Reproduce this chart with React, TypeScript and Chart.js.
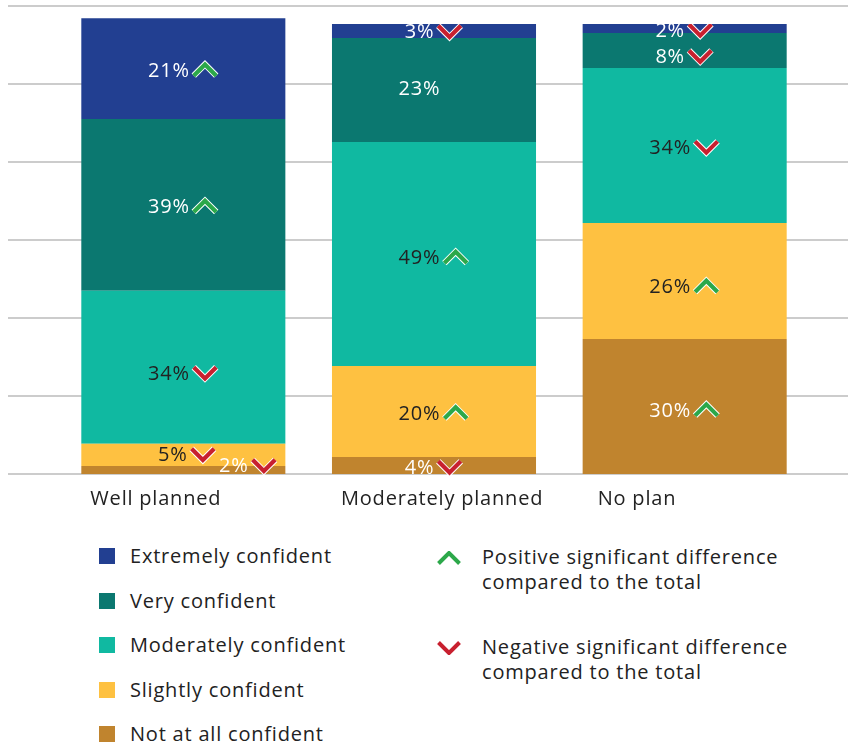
import React, { useEffect, useRef } from "react";
import { Chart, registerables } from "chart.js";

Chart.register(...registerables);

// ---------- DATA ----------
const categories = ["Well planned", "Moderately planned", "No plan"];
const seriesNames = [
  "Extremely confident",
  "Very confident",
  "Moderately confident",
  "Slightly confident",
  "Not at all confident",
];
// segment heights (% of respondents) as drawn
const extremelyValues = [22.4, 3.1, 2.0];
const veryValues = [38.2, 23.1, 7.8];
const moderatelyValues = [34.0, 49.8, 34.4];
const slightlyValues = [4.9, 20.2, 25.8];
const notAtAllValues = [1.8, 3.8, 30.0];
// printed labels
const extremelyLabels = ["21%", "3%", "2%"];
const veryLabels = ["39%", "23%", "8%"];
const moderatelyLabels = ["34%", "49%", "34%"];
const slightlyLabels = ["5%", "20%", "26%"];
const notAtAllLabels = ["2%", "4%", "30%"];
// significance markers
const extremelySig = ["up", "down", "down"];
const verySig = ["up", "none", "down"];
const moderatelySig = ["down", "up", "down"];
const slightlySig = ["down", "up", "up"];
const notAtAllSig = ["down", "down", "up"];
const legendSigTexts = [
  "Positive significant difference compared to the total",
  "Negative significant difference compared to the total",
];
const Y_MAX = 104;
const GRID_COUNT = 6;

// ---------- STYLE ----------
const FONT = "'Open Sans', Lato, sans-serif";
const SPACING = "0.8px";
const COLORS = {
  extremely: "#223F91",
  very: "#0B7870",
  moderately: "#10B9A1",
  slightly: "#FEC141",
  notAtAll: "#C0842E",
};
const GREEN = "#2CA84A";
const RED = "#C8202F";
const DARK = "#222222";
const LABEL_OFFSETS: Record<string, [number, number]> = {
  "Not at all confident|Well planned": [65, -6],
  "Very confident|No plan": [0, 4],
  "Moderately confident|Well planned": [0, 4],
  "Slightly confident|No plan": [0, 4],
  "Not at all confident|No plan": [0, 2],
  "Moderately confident|Moderately planned": [0, 2],
  "Very confident|Moderately planned": [0, -3],
  "Slightly confident|Well planned": [4, -2],
  "Extremely confident|Moderately planned": [0, -1],
};
const CATEGORY_LABEL_DX = [-93, -93, -87];

function chevronPath(ctx: CanvasRenderingContext2D, x: number, y: number, dir: string) {
  const w = 22.5;
  const h = 11.25;
  ctx.beginPath();
  if (dir === "up") {
    ctx.moveTo(x, y + h / 2);
    ctx.lineTo(x + w / 2, y - h / 2);
    ctx.lineTo(x + w, y + h / 2);
  } else {
    ctx.moveTo(x, y - h / 2);
    ctx.lineTo(x + w / 2, y + h / 2);
    ctx.lineTo(x + w, y - h / 2);
  }
}

function drawChevron(ctx: CanvasRenderingContext2D, x: number, y: number, dir: string) {
  ctx.save();
  ctx.lineJoin = "miter";
  ctx.lineCap = "butt";
  chevronPath(ctx, x, y, dir);
  ctx.strokeStyle = "#ffffff";
  ctx.lineWidth = 6.2;
  ctx.stroke();
  chevronPath(ctx, x, y, dir);
  ctx.strokeStyle = dir === "up" ? GREEN : RED;
  ctx.lineWidth = 4.2;
  ctx.stroke();
  ctx.restore();
}

const fullGridPlugin = {
  id: "fullGrid",
  beforeDatasetsDraw(chart: any) {
    const { ctx } = chart;
    const ys = chart.scales.y;
    ctx.save();
    ctx.strokeStyle = "#BBBBBB";
    ctx.lineWidth = 1.4;
    for (let i = 0; i <= GRID_COUNT; i++) {
      const py = ys.getPixelForValue((Y_MAX * i) / GRID_COUNT);
      ctx.beginPath();
      ctx.moveTo(0, py);
      ctx.lineTo(chart.width, py);
      ctx.stroke();
    }
    ctx.restore();
  },
};

const segmentLabelPlugin = {
  id: "segmentLabels",
  afterDatasetsDraw(chart: any) {
    const { ctx } = chart;
    const n = chart.data.labels.length;
    const tops: number[] = [];
    for (let i = 0; i < n; i++) {
      let t = Infinity;
      chart.data.datasets.forEach((_: any, di: number) => {
        const el = chart.getDatasetMeta(di).data[i];
        t = Math.min(t, el.y, el.base);
      });
      tops.push(t);
    }
    ctx.save();
    ctx.font = `20px ${FONT}`;
    (ctx as any).letterSpacing = SPACING;
    ctx.textBaseline = "middle";
    ctx.textAlign = "left";
    chart.data.datasets.forEach((ds: any, di: number) => {
      const meta = chart.getDatasetMeta(di);
      meta.data.forEach((el: any, i: number) => {
        const text = ds.printed[i];
        const sig = ds.sig[i];
        const off = LABEL_OFFSETS[ds.label + "|" + chart.data.labels[i]] || [0, 0];
        const cx = el.x + off[0];
        const cy = (el.y + el.base) / 2 + off[1] + 1.5;
        const tw = ctx.measureText(text).width;
        const total = tw + 4 + 25;
        const sx = cx - total / 2;
        ctx.save();
        ctx.beginPath();
        ctx.rect(chart.chartArea.left - 60, tops[i], chart.chartArea.width + 120, el.base - tops[i] + 40);
        ctx.clip();
        ctx.fillStyle = ds.textColor;
        ctx.fillText(text, sx, cy + 1);
        if (sig !== "none") drawChevron(ctx, sx + tw + 4, cy, sig);
        ctx.restore();
      });
    });
    ctx.restore();
  },
};

const categoryLabelPlugin = {
  id: "categoryLabels",
  afterDraw(chart: any) {
    const { ctx } = chart;
    const xs = chart.scales.x;
    ctx.save();
    ctx.font = `20px ${FONT}`;
    (ctx as any).letterSpacing = SPACING;
    ctx.fillStyle = DARK;
    ctx.textBaseline = "middle";
    ctx.textAlign = "left";
    chart.data.labels.forEach((lab: string, i: number) => {
      ctx.fillText(lab, xs.getPixelForValue(i) + CATEGORY_LABEL_DX[i], 499);
    });
    ctx.restore();
  },
};

function LegendChevron({ dir }: { dir: string }) {
  const d = dir === "up" ? "M1.5 12.5 L12 2 L22.5 12.5" : "M1.5 1.5 L12 12 L22.5 1.5";
  return (
    <svg width="24" height="14" viewBox="0 0 24 14" style={{ display: "block" }}>
      <path d={d} fill="none" stroke={dir === "up" ? GREEN : RED} strokeWidth={4} strokeLinejoin="miter" />
    </svg>
  );
}

export default function App() {
  const canvasRef = useRef<HTMLCanvasElement | null>(null);

  useEffect(() => {
    if (!canvasRef.current) return;
    const mk = (label: string, data: number[], color: string, printed: string[], sig: string[], textColor: string) => ({
      label,
      data,
      backgroundColor: color,
      borderWidth: 0,
      printed,
      sig,
      textColor,
      barPercentage: 0.814,
      categoryPercentage: 1,
    });
    const chart = new Chart(canvasRef.current, {
      type: "bar",
      data: {
        labels: categories,
        datasets: [
          mk(seriesNames[4], notAtAllValues, COLORS.notAtAll, notAtAllLabels, notAtAllSig, "#ffffff"),
          mk(seriesNames[3], slightlyValues, COLORS.slightly, slightlyLabels, slightlySig, DARK),
          mk(seriesNames[2], moderatelyValues, COLORS.moderately, moderatelyLabels, moderatelySig, DARK),
          mk(seriesNames[1], veryValues, COLORS.very, veryLabels, verySig, "#ffffff"),
          mk(seriesNames[0], extremelyValues, COLORS.extremely, extremelyLabels, extremelySig, "#ffffff"),
        ] as any,
      },
      options: {
        responsive: false,
        animation: false,
        devicePixelRatio: 1,
        layout: { padding: { left: 50, right: 38, top: 6, bottom: 46 } },
        plugins: { legend: { display: false }, tooltip: { enabled: false } },
        scales: {
          x: { stacked: true, display: false },
          y: { stacked: true, display: false, min: 0, max: Y_MAX },
        },
      },
      plugins: [fullGridPlugin, segmentLabelPlugin, categoryLabelPlugin],
    });
    return () => chart.destroy();
  }, []);

  const legendRows = [
    { name: seriesNames[0], color: COLORS.extremely },
    { name: seriesNames[1], color: COLORS.very },
    { name: seriesNames[2], color: COLORS.moderately },
    { name: seriesNames[3], color: COLORS.slightly },
    { name: seriesNames[4], color: COLORS.notAtAll },
  ];

  return (
    <div style={{ position: "absolute", left: 0, top: 0, width: 848, height: 744, background: "#fff", fontFamily: FONT, color: DARK, overflow: "hidden", letterSpacing: SPACING }}>
      <canvas ref={canvasRef} width={840} height={520} style={{ position: "absolute", left: 8, top: 0, width: 840, height: 520 }} />
      {legendRows.map((r, k) => (
        <div key={r.name} style={{ position: "absolute", left: 99, top: 544 + k * 44.5, height: 24, display: "flex", alignItems: "center", fontSize: 20, whiteSpace: "nowrap" }}>
          <div style={{ width: 16, height: 16, background: r.color, marginRight: 15 }} />
          <span style={{ lineHeight: "24px" }}>{r.name}</span>
        </div>
      ))}
      {legendSigTexts.map((t, k) => (
        <div key={t} style={{ position: "absolute", left: 437, top: 544 + k * 89.5, width: 400 }}>
          <div style={{ position: "absolute", left: 0, top: 7 }}>
            <LegendChevron dir={k === 0 ? "up" : "down"} />
          </div>
          <div style={{ marginLeft: 45, fontSize: 20, lineHeight: "25px", width: 340 }}>{t}</div>
        </div>
      ))}
    </div>
  );
}
